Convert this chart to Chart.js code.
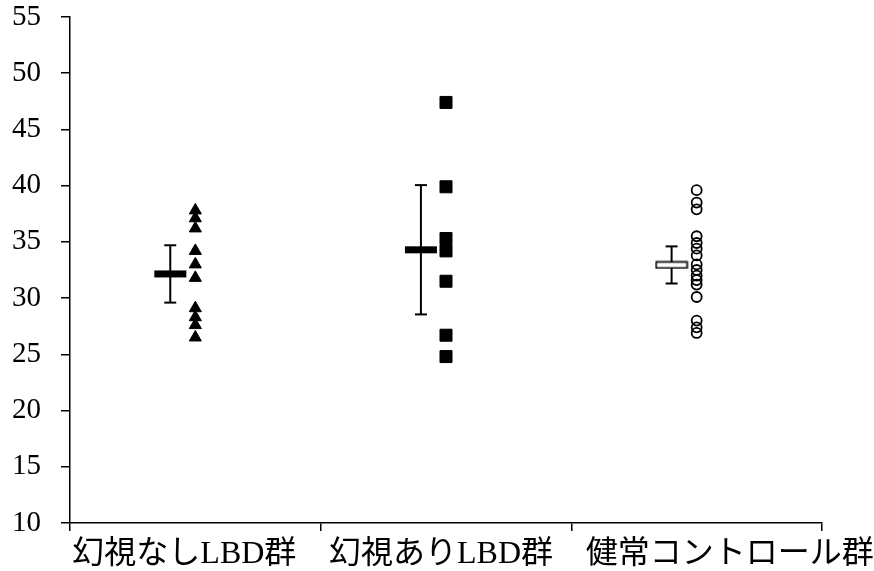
<!DOCTYPE html>
<html>
<head>
<meta charset="utf-8">
<script src="https://cdn.jsdelivr.net/npm/chart.js@4"></script>
<style>
  html, body { margin: 0; padding: 0; background: #fff; }
  #wrap { width: 874px; height: 571px; }
</style>
</head>
<body>
<div id="wrap"><canvas id="c" width="874" height="571"></canvas></div>
<script>
// Groups and individual measurements
const categories = ['幻視なしLBD群', '幻視ありLBD群', '健常コントロール群'];
const noHallucination = [37.8, 37.1, 36.2, 34.2, 33.0, 31.8, 29.1, 28.3, 27.6, 26.5];
const withHallucination = [47.4, 39.9, 35.3, 34.2, 31.5, 26.7, 24.8];
const healthyControl = [39.6, 38.5, 37.9, 35.5, 34.9, 34.4, 33.8, 33.0, 32.5, 32.0, 31.6, 31.2, 30.1, 28.0, 27.4, 26.9];
// Group summary: mean and spread
const groupMeans = [32.15, 34.3, 32.95];
const groupSD = [2.55, 5.75, 1.65];
// Value axis ticks
const yTicks = [10, 15, 20, 25, 30, 35, 40, 45, 50, 55];

const groups = [noHallucination, withHallucination, healthyControl];
const MEAN_SHIFT = -0.1;   // summary markers sit just left of the raw points

// Individual point markers per group
const markerStyles = [
  { pointStyle: 'triangle', pointRadius: 7, backgroundColor: '#000', borderWidth: 1 },
  { pointStyle: 'rect', pointRadius: 8.5, backgroundColor: '#000', borderWidth: 1 },
  { pointStyle: 'circle', pointRadius: 5, backgroundColor: 'rgba(0,0,0,0)', borderWidth: 1.8 }
];

// Wide bar glyphs for the mean markers
function meanGlyph(filled) {
  const c = document.createElement('canvas');
  c.width = 34; c.height = 9;
  const g = c.getContext('2d');
  if (filled) {
    g.fillStyle = '#000';
    g.fillRect(1, 1, 32, 7);
  } else {
    g.fillStyle = '#fff';
    g.fillRect(1, 1, 32, 7);
    g.strokeStyle = '#000';
    g.lineWidth = 1.6;
    g.strokeRect(1.5, 1.5, 31, 6);
  }
  return c;
}
const meanGlyphs = [meanGlyph(true), meanGlyph(true), meanGlyph(false)];

const datasets = [];

// Mean markers (on top)
datasets.push({
  label: 'mean',
  data: groupMeans.map((m, i) => ({ x: i + 0.5 + MEAN_SHIFT, y: m })),
  showLine: false,
  pointStyle: meanGlyphs,
  pointRadius: 5,
  order: 0
});

// Raw measurements
groups.forEach((vals, i) => {
  datasets.push(Object.assign({
    label: categories[i],
    data: vals.map(v => ({ x: i + 0.5, y: v })),
    showLine: false,
    borderColor: '#000',
    order: 1
  }, markerStyles[i]));
});

// Error bars: vertical stem with horizontal caps
groupMeans.forEach((m, i) => {
  datasets.push({
    label: 'err' + i,
    data: [
      { x: i + 0.5 + MEAN_SHIFT, y: m - groupSD[i] },
      { x: i + 0.5 + MEAN_SHIFT, y: m + groupSD[i] }
    ],
    showLine: true,
    borderColor: '#000',
    borderWidth: 2,
    pointStyle: 'line',
    pointRadius: 6,
    pointBorderWidth: 2,
    pointBorderColor: '#000',
    order: 2
  });
});

// Category names under the horizontal axis
const categoryLabels = {
  id: 'categoryLabels',
  afterDraw(chart, args, opts) {
    const { ctx, chartArea, scales } = chart;
    const x = scales.x;
    ctx.save();
    ctx.font = opts.font;
    ctx.fillStyle = '#000';
    ctx.textAlign = 'center';
    ctx.textBaseline = 'middle';
    categories.forEach((t, i) => {
      ctx.fillText(t, x.getPixelForValue(i + 0.5) + opts.shift[i], chartArea.bottom + opts.gap);
    });
    ctx.restore();
  }
};

new Chart(document.getElementById('c'), {
  type: 'scatter',
  data: { datasets },
  plugins: [categoryLabels],
  options: {
    responsive: false,
    animation: false,
    devicePixelRatio: 1,
    layout: { padding: { top: 17, right: 52, left: 0, bottom: 0 } },
    plugins: {
      legend: { display: false },
      tooltip: { enabled: false },
      categoryLabels: {
        font: '32px "Liberation Serif", "Noto Sans CJK JP", serif',
        shift: [-11, -5, 33],
        gap: 32
      }
    },
    scales: {
      x: {
        type: 'linear',
        min: 0,
        max: 3,
        ticks: { stepSize: 1, display: false },
        grid: { drawOnChartArea: false, drawTicks: true, tickLength: 8, color: '#000', lineWidth: 1.5 },
        border: { display: true, color: '#000', width: 1.5 },
        afterFit: s => { s.height = 48; s.paddingLeft = 0; s.paddingRight = 0; }
      },
      y: {
        type: 'linear',
        min: 10,
        max: 55,
        afterBuildTicks: s => { s.ticks = yTicks.map(v => ({ value: v })); },
        ticks: {
          color: '#000',
          padding: 20,
          font: { family: '"Liberation Serif", "Times New Roman", serif', size: 29 }
        },
        grid: { drawOnChartArea: false, drawTicks: true, tickLength: 9, color: '#000', lineWidth: 1.5 },
        border: { display: true, color: '#000', width: 1.5 },
        afterFit: s => { s.width = 70; s.paddingTop = 0; s.paddingBottom = 0; }
      }
    }
  }
});
</script>
</body>
</html>
